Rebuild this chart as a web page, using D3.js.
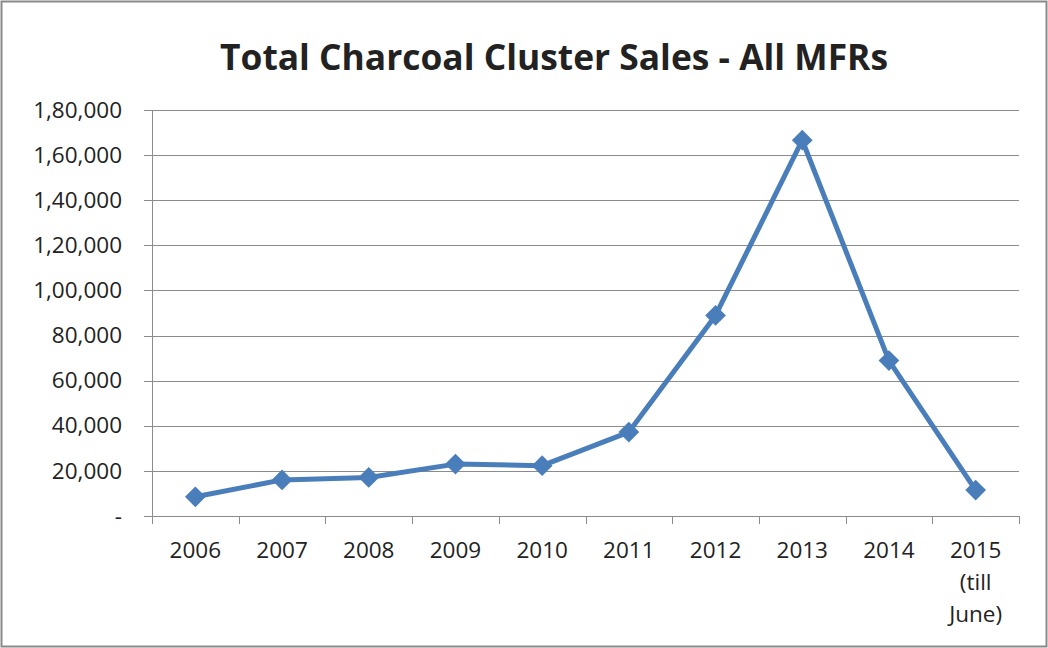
<!DOCTYPE html>
<meta charset="utf-8">
<html>
  <head>
    <style>
      body { margin: 0; background: #fff; }
      text { font-family: "Open Sans", "Noto Sans", sans-serif; fill: #222; }
      .grid line { stroke: #8c8c8c; stroke-width: 1px; shape-rendering: crispEdges; }
      .axis path, .axis line { stroke: #8c8c8c; shape-rendering: crispEdges; }
    </style>
    <script src="https://d3js.org/d3.v7.min.js"></script>
  </head>
  <body>
    <script>

      var width = 1048;
      var height = 648;

      // data
      var years = ["2006", "2007", "2008", "2009", "2010", "2011", "2012", "2013", "2014", "2015\n(till\nJune)"];
      var sales = [8500, 16000, 17100, 23000, 22300, 37200, 88900, 166600, 68900, 11500];
      var yTicks = [0, 20000, 40000, 60000, 80000, 100000, 120000, 140000, 160000, 180000];
      var title = "Total Charcoal Cluster Sales - All MFRs";

      var margin = {top: 110, right: 29, bottom: 132, left: 152};

      var svg = d3.select('body').append('svg')
	  .attr('width', width)
	  .attr('height', height);

      // outer chart border
      svg.append("rect")
	  .attr("x", 1.5).attr("y", 1.5)
	  .attr("width", width - 3).attr("height", height - 3)
	  .attr("fill", "white")
	  .attr("stroke", "#8a8a8a")
	  .attr("stroke-width", 2);

      var x = d3.scaleBand()
	  .domain(years)
	  .range([margin.left, width - margin.right]);

      var y = d3.scaleLinear()
	  .domain([0, 180000])
	  .range([height - margin.bottom, margin.top]);

      // indian style grouping: 1,80,000
      function indian(v) {
	  if (v === 0) return "-";
	  var s = String(v);
	  var last3 = s.slice(-3), rest = s.slice(0, -3);
	  if (rest.length) rest = rest.replace(/\B(?=(\d{2})+(?!\d))/g, ",") + ",";
	  return rest + last3;
      }

      // gridlines
      svg.append("g")
	  .attr("class", "grid")
	  .selectAll("line")
	  .data(yTicks.slice(1))
	  .enter().append("line")
	  .attr("x1", margin.left)
	  .attr("x2", width - margin.right)
	  .attr("y1", function(d) { return Math.round(y(d)) + 0.5; })
	  .attr("y2", function(d) { return Math.round(y(d)) + 0.5; });

      // y axis
      var yAxis = svg.append("g")
	  .attr("class", "axis")
	  .attr("transform", "translate(" + margin.left + ",0)")
	  .call(d3.axisLeft(y).tickValues(yTicks).tickFormat(indian).tickSize(8).tickSizeOuter(0).tickPadding(22));
      yAxis.selectAll("text").style("font-size", "22.5px").attr("fill", "#222");

      // x axis, ticks on category boundaries
      var xAxis = svg.append("g")
	  .attr("class", "axis")
	  .attr("transform", "translate(0," + (height - margin.bottom) + ")");
      xAxis.append("line")
	  .attr("x1", margin.left).attr("x2", width - margin.right)
	  .attr("y1", 0.5).attr("y2", 0.5);
      xAxis.selectAll(".bt")
	  .data(years.map(function(d) { return x(d); }).concat([width - margin.right]))
	  .enter().append("line")
	  .attr("class", "bt")
	  .attr("x1", function(d) { return Math.round(d) + 0.5; })
	  .attr("x2", function(d) { return Math.round(d) + 0.5; })
	  .attr("y1", 0).attr("y2", 8);

      xAxis.selectAll(".lbl")
	  .data(years)
	  .enter().append("text")
	  .attr("class", "lbl")
	  .attr("text-anchor", "middle")
	  .style("font-size", "22.5px")
	  .attr("transform", function(d) { return "translate(" + (x(d) + x.bandwidth() / 2) + ",42)"; })
	  .selectAll("tspan")
	  .data(function(d) { return d.split("\n"); })
	  .enter().append("tspan")
	  .attr("x", 0)
	  .attr("dy", function(d, i) { return i ? 32 : 0; })
	  .text(function(d) { return d; });

      // line
      var pts = years.map(function(d, i) { return [x(d) + x.bandwidth() / 2, y(sales[i])]; });

      svg.append("path")
	  .datum(pts)
	  .attr("d", d3.line())
	  .attr("fill", "none")
	  .attr("stroke", "#4a7ebb")
	  .attr("stroke-width", 5)
	  .attr("stroke-linejoin", "round");

      svg.selectAll(".marker")
	  .data(pts)
	  .enter().append("path")
	  .attr("class", "marker")
	  .attr("d", d3.symbol().type(d3.symbolSquare).size(215))
	  .attr("transform", function(d) { return "translate(" + d[0] + "," + d[1] + ") rotate(45)"; })
	  .attr("fill", "#4a7ebb");

      // title
      var t = svg.append("text")
	  .attr("x", 554)
	  .attr("y", 70)
	  .attr("text-anchor", "middle")
	  .style("font-weight", "bold")
	  .style("font-size", "34px")
	  .attr("fill", "#000")
	  .text(title);
      var w = t.node().getComputedTextLength();
      t.style("font-size", (34 * 668 / w) + "px");

    </script>
  </body>
</html>
